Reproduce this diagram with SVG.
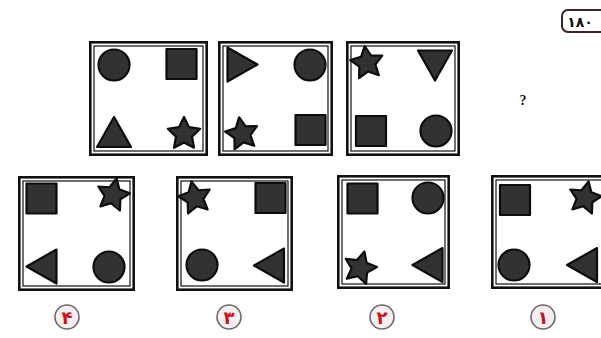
<svg xmlns="http://www.w3.org/2000/svg" xmlns:xlink="http://www.w3.org/1999/xlink" width="601" height="338" viewBox="0 0 601 338">
<style>
.fo{fill:none;stroke:#111;stroke-width:2.6}
.fi{fill:none;stroke:#111;stroke-width:1.2}
.sh{fill:#313330;stroke:#0c0c0c;stroke-width:2.2;stroke-linejoin:round}
.lc{fill:#f6eef0;stroke:#6a6a6a;stroke-width:1.6}
.lt{font-family:"DejaVu Sans",sans-serif;font-weight:bold;font-size:18px;fill:#c8141e;text-anchor:middle}
.pg{font-family:"DejaVu Sans",sans-serif;font-weight:bold;font-size:14px;fill:#111;text-anchor:middle}
</style>
<defs>
<circle id="cir" r="15.5" class="sh"/>
<rect id="sq" x="-15" y="-15" width="30" height="30" class="sh"/>
<polygon id="tu" points="0,-15 17,15 -17,15" class="sh"/>
<polygon id="td" points="-17,-15 17,-15 0,15" class="sh"/>
<polygon id="tr" points="-15,-17 15,0 -15,17" class="sh"/>
<polygon id="tl" points="15,-17 -15,0 15,17" class="sh"/>
<polygon id="st" points="0,-17 5,-6.88 16.17,-5.25 8.08,2.63 9.99,13.75 0,8.5 -9.99,13.75 -8.08,2.63 -16.17,-5.25 -5,-6.88" class="sh"/>
</defs>
<rect width="601" height="338" fill="#fff"/>

<g id="page-number">
<rect x="562" y="10" width="48" height="22" rx="6" fill="#fff" stroke="#3a2424" stroke-width="2"/>
<text x="580" y="26.5" class="pg">۱۸۰</text>
</g>

<g id="question-mark">
<text x="523" y="105" font-family="Liberation Serif, serif" font-weight="bold" font-size="14" fill="#111" text-anchor="middle">?</text>
</g>

<g id="q1">
<rect x="90.3" y="42.3" width="116.4" height="112.4" class="fo"/>
<rect x="94" y="46" width="109" height="105" class="fi"/>
<use xlink:href="#cir" x="114" y="65"/>
<use xlink:href="#sq" x="181.5" y="64"/>
<use xlink:href="#tu" x="114" y="132"/>
<use xlink:href="#st" x="184" y="134"/>
</g>

<g id="q2">
<rect x="219.3" y="42.3" width="112.4" height="112.4" class="fo"/>
<rect x="223" y="46" width="105" height="105" class="fi"/>
<use xlink:href="#tr" x="242.5" y="64.5"/>
<use xlink:href="#cir" x="310" y="65"/>
<use xlink:href="#st" x="242" y="134" transform="rotate(-10 242 134)"/>
<use xlink:href="#sq" x="310.5" y="130"/>
</g>

<g id="q3">
<rect x="347.3" y="42.3" width="111.4" height="112.4" class="fo"/>
<rect x="351" y="46" width="104" height="105" class="fi"/>
<use xlink:href="#st" x="367" y="63" transform="rotate(-8 367 63)"/>
<use xlink:href="#td" x="435" y="65.5"/>
<use xlink:href="#sq" x="371" y="131"/>
<use xlink:href="#cir" x="436" y="131"/>
</g>

<g id="opt4">
<rect x="19.3" y="177.3" width="114.4" height="112.4" class="fo"/>
<rect x="23" y="181" width="107" height="105" class="fi"/>
<use xlink:href="#sq" x="41.5" y="198.5"/>
<use xlink:href="#st" x="113" y="195" transform="rotate(12 113 195)"/>
<use xlink:href="#tl" x="41.5" y="266.5"/>
<use xlink:href="#cir" x="109" y="267"/>
<circle cx="67" cy="317" r="12" class="lc"/>
<text x="67" y="323.5" class="lt">۴</text>
</g>

<g id="opt3">
<rect x="177.3" y="177.3" width="114.4" height="112.4" class="fo"/>
<rect x="181" y="181" width="107" height="105" class="fi"/>
<use xlink:href="#st" x="195" y="198" transform="rotate(-12 195 198)"/>
<use xlink:href="#sq" x="270.5" y="198"/>
<use xlink:href="#cir" x="202" y="265"/>
<use xlink:href="#tl" x="269" y="265.5"/>
<circle cx="229" cy="317" r="12" class="lc"/>
<text x="229" y="323.5" class="lt">۳</text>
</g>

<g id="opt2">
<rect x="338.3" y="176.3" width="110.4" height="111.4" class="fo"/>
<rect x="342" y="180" width="103" height="104" class="fi"/>
<use xlink:href="#sq" x="362.5" y="198.5"/>
<use xlink:href="#cir" x="428" y="198"/>
<use xlink:href="#st" x="360" y="268" transform="rotate(15 360 268)"/>
<use xlink:href="#tl" x="427.5" y="265"/>
<circle cx="382" cy="317" r="12" class="lc"/>
<text x="382" y="323.5" class="lt">۲</text>
</g>

<g id="opt1">
<rect x="492.3" y="176.3" width="114.4" height="111.4" class="fo"/>
<rect x="496" y="180" width="107" height="104" class="fi"/>
<use xlink:href="#sq" x="515" y="200"/>
<use xlink:href="#st" x="585" y="198" transform="rotate(12 585 198)"/>
<use xlink:href="#cir" x="514" y="265"/>
<use xlink:href="#tl" x="582" y="265"/>
<circle cx="543" cy="317" r="12" class="lc"/>
<text x="543" y="323.5" class="lt">۱</text>
</g>
</svg>
